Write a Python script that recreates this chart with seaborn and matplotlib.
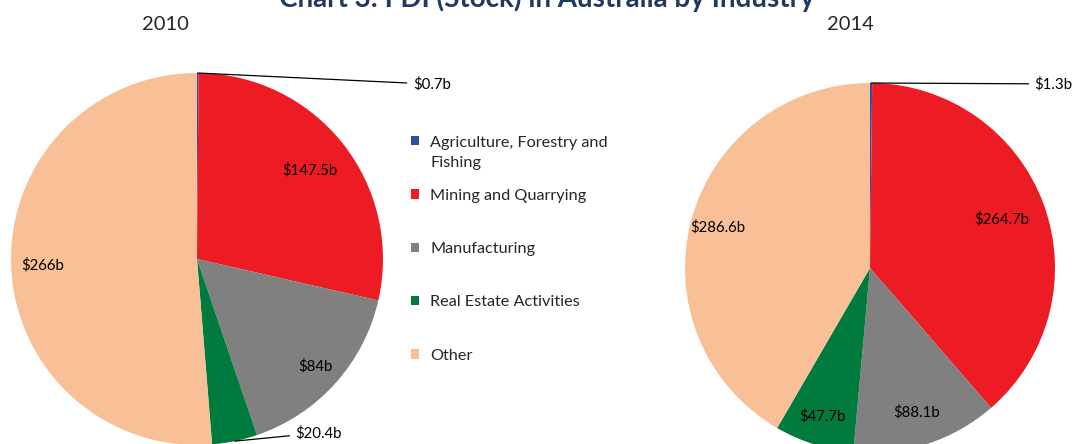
import matplotlib
matplotlib.use("Agg")
import matplotlib.pyplot as plt
import seaborn as sns
import numpy as np

# Chart data
categories = ["Agriculture, Forestry and", "Mining and Quarrying",
              "Manufacturing", "Real Estate Activities", "Other"]
category_wrap = "Fishing"   # second line of the first legend label
values_2010 = [0.7, 147.5, 84, 20.4, 266]
values_2014 = [1.3, 264.7, 88.1, 47.7, 286.6]
labels_2010 = ["$0.7b", "$147.5b", "$84b", "$20.4b", "$266b"]
labels_2014 = ["$1.3b", "$264.7b", "$88.1b", "$47.7b", "$286.6b"]

colors = ["#2B4FA2", "#ED1C24", "#808080", "#007A3D", "#F9BF96"]

sns.set_theme(style="white")
plt.rcParams["font.family"] = ["Lato", "DejaVu Sans"]
plt.rcParams["text.usetex"] = False

W, H = 1085, 444
fig = plt.figure(figsize=(W / 100, H / 100), dpi=100)
LBL = 10.8
LEG = 11.7


def pie_axes(cx, cy, r):
    # axes box in pixels -> figure fraction, so the pie has radius r px
    return fig.add_axes([(cx - r) / W, 1 - (cy + r) / H, 2 * r / W, 2 * r / H])


def draw_pie(ax, values, labels, inner_dist, outer_pos):
    wedges, _ = ax.pie(values, colors=colors, startangle=90, counterclock=False,
                       radius=1, wedgeprops=dict(linewidth=0))
    ax.set_xlim(-1, 1)
    ax.set_ylim(-1, 1)
    ax.axis("off")
    for i, w in enumerate(wedges):
        mid = np.deg2rad((w.theta1 + w.theta2) / 2)
        if i in outer_pos:
            ax.annotate(labels[i], xy=(np.cos(mid), np.sin(mid)),
                        xytext=outer_pos[i], ha="left", va="center",
                        fontsize=LBL, color="black", annotation_clip=False,
                        arrowprops=dict(arrowstyle="-", color="black", lw=0.9,
                                        shrinkA=2, shrinkB=0))
        else:
            d = inner_dist[i]
            ax.text(d * np.cos(mid), d * np.sin(mid), labels[i],
                    ha="center", va="center", fontsize=LBL, color="black")
    return wedges


ax1 = pie_axes(197, 259, 186)
wedges = draw_pie(ax1, values_2010, labels_2010,
                  {1: 0.77, 2: 0.86, 4: 0.83},
                  {0: (1.16, 0.94), 3: (0.53, -0.935)})

ax2 = pie_axes(870, 268, 185)
draw_pie(ax2, values_2014, labels_2014,
         {1: 0.76, 2: 0.82, 3: 0.84, 4: 0.85},
         {0: (0.89, 0.995)})

fig.text(165 / W, 1 - 25 / H, "2010", ha="center", va="center", fontsize=14.5)
fig.text(850 / W, 1 - 25 / H, "2014", ha="center", va="center", fontsize=14.5)
fig.text(547 / W, 1 - 7 / H, "Chart 3: FDI (Stock) in Australia by Industry",
         ha="center", va="baseline", fontsize=20, fontweight="bold",
         color="#1F3864")

leg = fig.legend(wedges, categories, loc="upper left",
                 bbox_to_anchor=(404 / W, 1 - 129 / H), frameon=False,
                 fontsize=LEG, handlelength=0.5, handleheight=0.5,
                 handletextpad=0.72, labelspacing=2.42, borderaxespad=0)

# second line of the first legend label, hung under its first line
fig.canvas.draw()
bb = leg.get_texts()[0].get_window_extent()
fig.text(bb.x0 / W, (bb.y0 - 20) / H, category_wrap,
         ha="left", va="bottom", fontsize=LEG)

fig.savefig("out.png", dpi=100)
